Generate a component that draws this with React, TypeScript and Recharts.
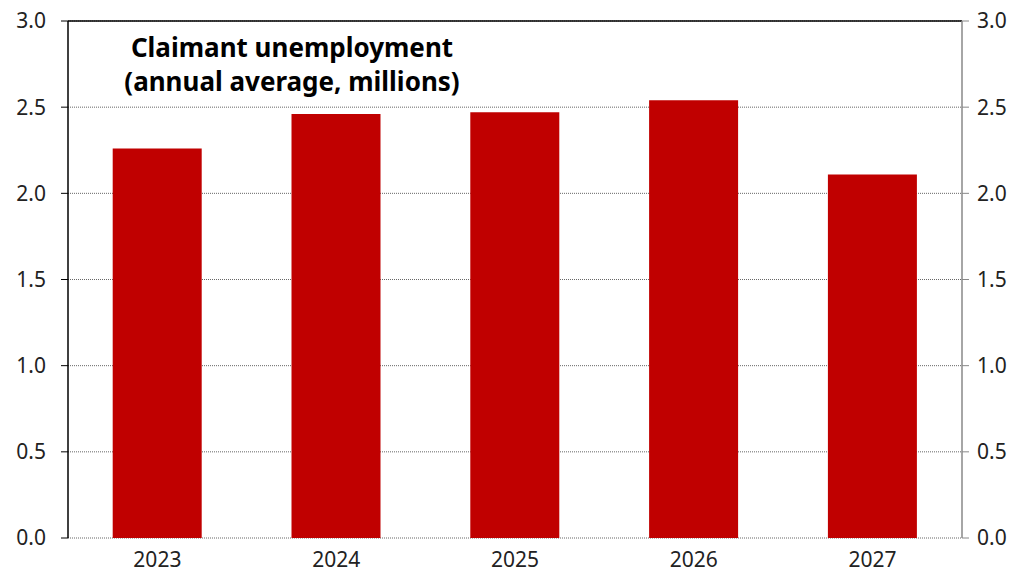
import React from 'react';
import { ComposedChart, Bar, Line, XAxis, YAxis, CartesianGrid, ReferenceLine } from 'recharts';

const years = ['2023', '2024', '2025', '2026', '2027'];
const claimants = [2.26, 2.46, 2.47, 2.54, 2.11];
const yTicks = [0, 0.5, 1, 1.5, 2, 2.5, 3];
const boundaryTicks = [0, 1, 2, 3, 4, 5];

// pos = centre of each category on the 0..5 edge axis
const data = years.map((year, i) => ({ year, value: claimants[i], pos: i + 0.5 }));

const font = "'Noto Sans', 'Open Sans', sans-serif";
const fmt = (v: number) => v.toFixed(1);
const tickStyle = { fill: '#222', fontSize: 21, fontFamily: font };

export default function App() {
  return (
    <div style={{ position: 'absolute', left: 0, top: 0, width: 1025, height: 572, background: '#fff', fontFamily: font }}>
      <ComposedChart
        width={1025}
        height={572}
        data={data}
        margin={{ top: 21, right: 0, bottom: 0, left: 0 }}
        barCategoryGap="25%"
      >
        <CartesianGrid xAxisId="cat" yAxisId="left" vertical={false} stroke="#666" strokeDasharray="1 1" />
        <XAxis
          xAxisId="edges"
          dataKey="pos"
          type="number"
          domain={[0, 5]}
          ticks={boundaryTicks}
          allowDataOverflow
          height={0}
          tick={false}
          tickLine={{ stroke: '#000' }}
          tickSize={7}
          axisLine={{ stroke: '#000', strokeWidth: 1.5 }}
        />
        <XAxis
          xAxisId="cat"
          dataKey="year"
          height={34}
          tickLine={false}
          axisLine={false}
          tickMargin={8}
          tick={tickStyle}
        />
        <YAxis
          yAxisId="left"
          domain={[0, 3]}
          ticks={yTicks}
          tickFormatter={fmt}
          width={68}
          tickSize={7}
          tickMargin={15}
          axisLine={{ stroke: '#000', strokeWidth: 1.5 }}
          tickLine={{ stroke: '#000' }}
          tick={tickStyle}
        />
        <YAxis
          yAxisId="right"
          orientation="right"
          domain={[0, 3]}
          ticks={yTicks}
          tickFormatter={fmt}
          width={63}
          tickSize={7}
          tickMargin={8}
          axisLine={{ stroke: '#888', strokeWidth: 1.5 }}
          tickLine={{ stroke: '#888' }}
          tick={tickStyle}
        />
        <ReferenceLine xAxisId="cat" yAxisId="left" y={3} stroke="#000" strokeWidth={1.5} />
        <Bar xAxisId="cat" yAxisId="left" dataKey="value" fill="#C00000" isAnimationActive={false} />
        <Line
          xAxisId="edges"
          yAxisId="right"
          dataKey="value"
          stroke="none"
          dot={false}
          activeDot={false}
          legendType="none"
          isAnimationActive={false}
        />
      </ComposedChart>
      <div
        style={{
          position: 'absolute',
          left: 92,
          top: 30,
          width: 400,
          textAlign: 'center',
          fontWeight: 700,
          fontSize: 26,
          lineHeight: '34px',
          color: '#000',
        }}
      >
        Claimant unemployment
        <br />
        (annual average, millions)
      </div>
    </div>
  );
}
